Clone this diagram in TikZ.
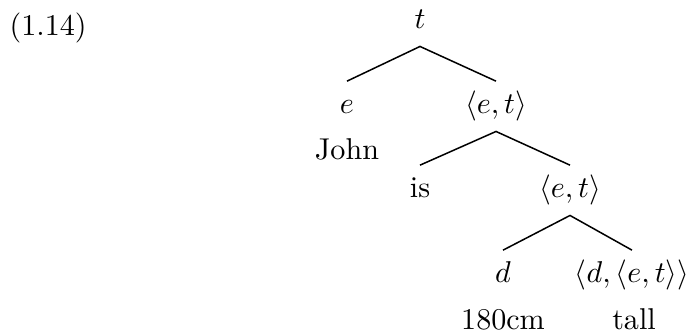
\documentclass[tikz,border=0pt]{standalone}
\begin{document}
\begin{tikzpicture}[x=0.332pt,y=-0.332pt,
  typ/.style={anchor=base,inner xsep=0pt,inner ysep=2pt,text height=8.7pt,text depth=3.6pt},
  word/.style={anchor=base,inner sep=0pt},
  branch/.style={line width=0.5pt}]
\useasboundingbox (0,0) rectangle (689,335);
\node[word,anchor=base west] (num) at (9,36) {(1.14)};
% types
\node[typ] (t) at (420,29) {$t$};
\node[typ] (e) at (347,114) {$e$};
\node[typ] (et1) at (496,114) {$\langle e,t\rangle$};
\node[typ] (et2) at (570,198) {$\langle e,t\rangle$};
\node[typ] (d) at (503,283) {$d$};
\node[typ] (det) at (632,283) {$\langle d,\langle e,t\rangle\rangle$};
% words
\node[word] (john) at (347,160) {John};
\node[typ] (is) at (420,198) {is};
\node[word] (cm) at (503,330) {180cm};
\node[word] (tall) at (634,330) {tall};
% branches
\draw[branch] (e.north) -- (t.south) -- (et1.north);
\draw[branch] (is.north) -- (et1.south) -- (et2.north);
\draw[branch] (d.north) -- (et2.south) -- (det.north);
\end{tikzpicture}
\end{document}
